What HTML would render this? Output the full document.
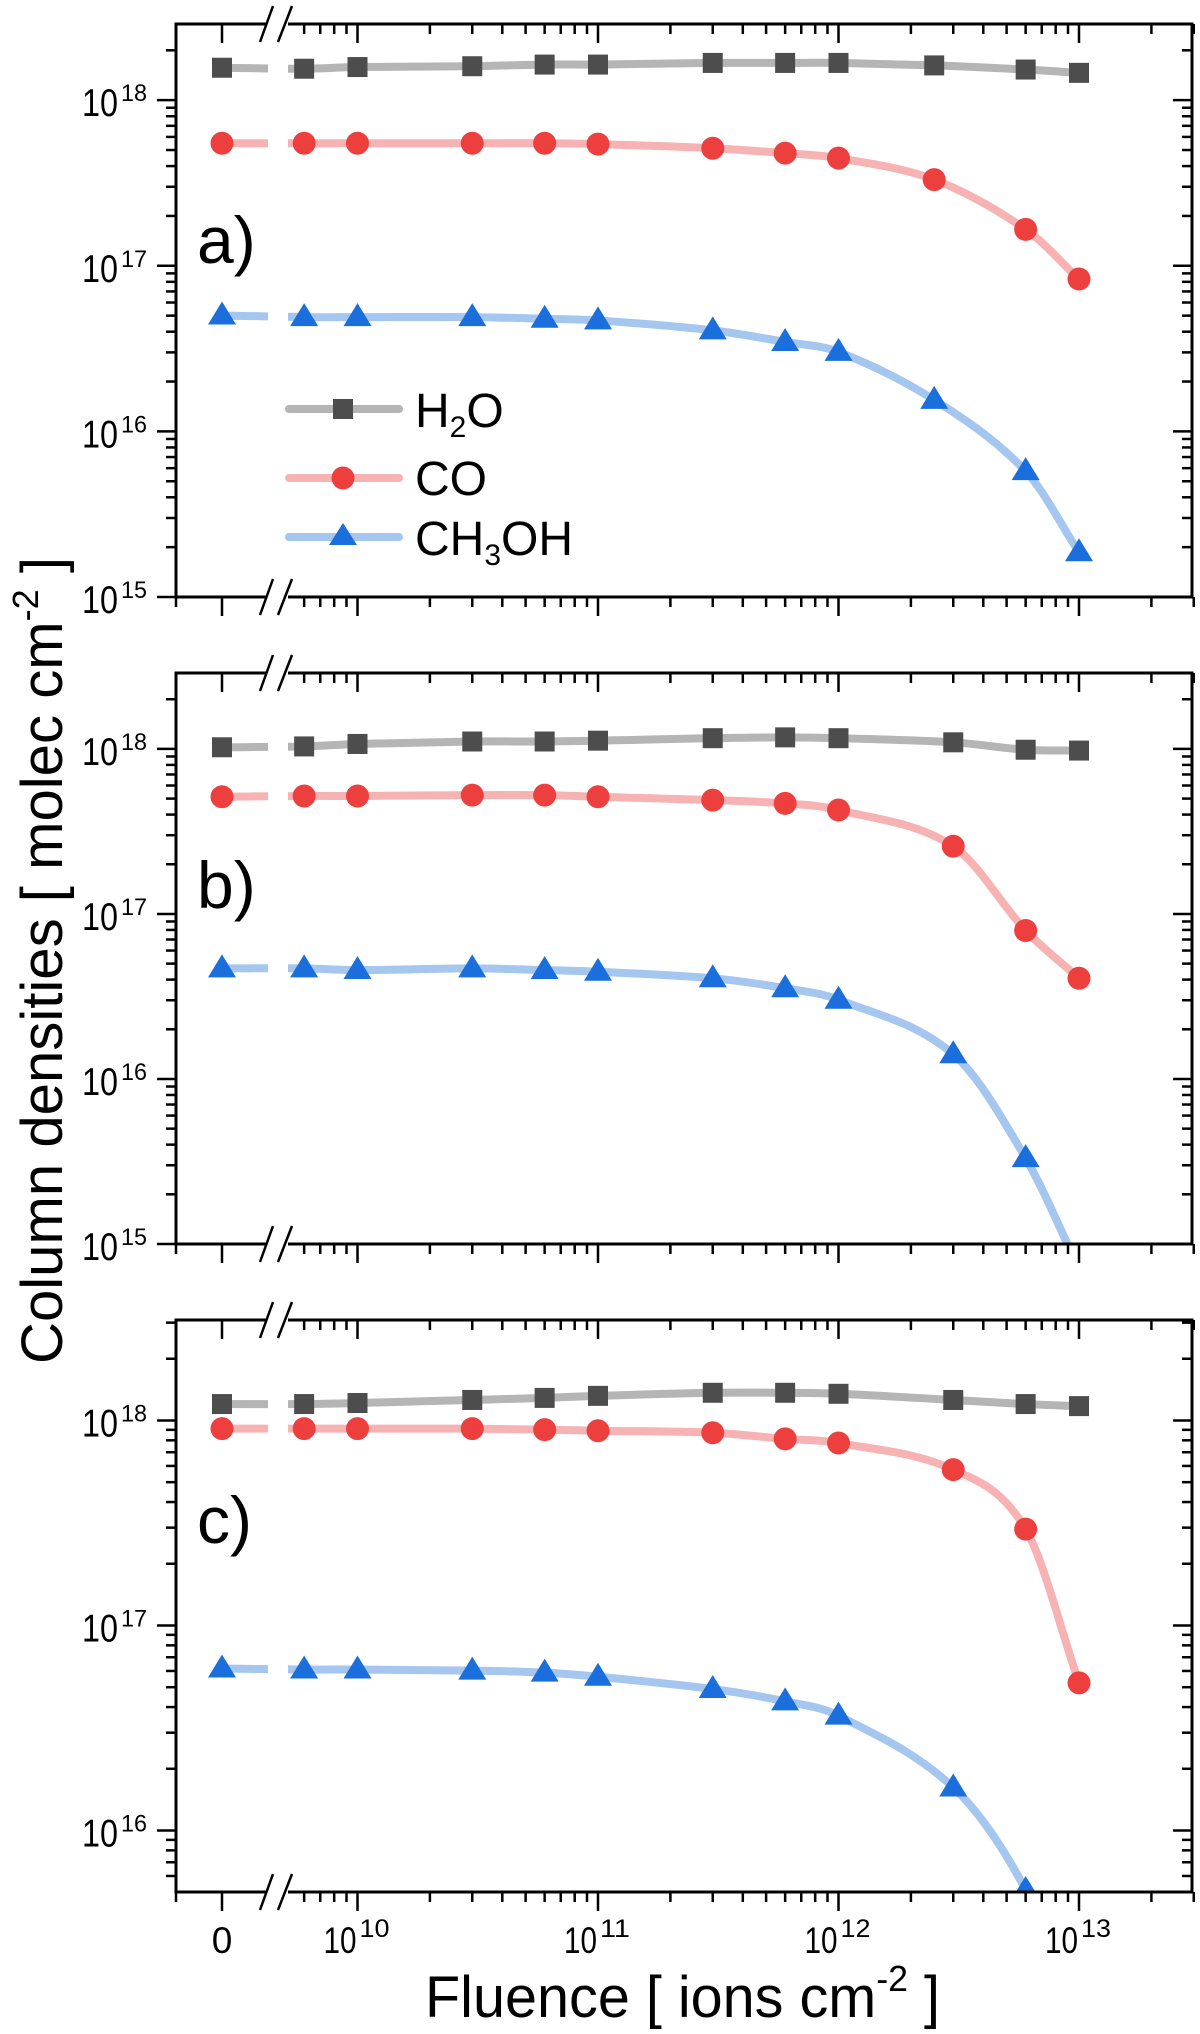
<!DOCTYPE html>
<html><head><meta charset="utf-8"><style>
html,body{margin:0;padding:0;background:#fff;}
svg{display:block;font-family:"Liberation Sans",Arial,sans-serif;}
</style></head><body>
<svg id="chart" width="1200" height="2034" viewBox="0 0 1200 2034" xmlns="http://www.w3.org/2000/svg">
<defs></defs>
<g id="root"></g>
<text transform="translate(62,1364) rotate(-90)" font-size="58" textLength="807" lengthAdjust="spacingAndGlyphs">Column densities [ molec cm<tspan dy="-24" font-size="36">-2</tspan><tspan dy="24"> ]</tspan></text>
<text x="425" y="2017" font-size="58" textLength="515" lengthAdjust="spacingAndGlyphs">Fluence [ ions cm<tspan dy="-26" font-size="36">-2</tspan><tspan dy="26"> ]</tspan></text>
<g>
  <line x1="289" y1="409" x2="399" y2="409" stroke="#b5b5b5" stroke-width="8" stroke-linecap="round"/>
  <rect x="333" y="399" width="20" height="20" fill="#4d4d4d"/>
  <text x="415" y="427" font-size="48">H<tspan dy="10" font-size="30">2</tspan><tspan dy="-10">O</tspan></text>
  <line x1="289" y1="478" x2="399" y2="478" stroke="#f7b3b3" stroke-width="8" stroke-linecap="round"/>
  <circle cx="343" cy="478" r="11.5" fill="#ee3f3f"/>
  <text x="415" y="495" font-size="48">CO</text>
  <line x1="289" y1="537" x2="399" y2="537" stroke="#a5c6ef" stroke-width="8" stroke-linecap="round"/>
  <polygon points="343,523 357,545 329,545" fill="#1a6fdc"/>
  <text x="415" y="555" font-size="48">CH<tspan dy="10" font-size="30">3</tspan><tspan dy="-10">OH</tspan></text>
</g>
</svg>
<script>
// Shared x data (fluence, ions cm^-2); 0 is plotted on the broken segment
const fluence = [0, 6e9, 1e10, 3e10, 6e10, 1e11, 3e11, 6e11, 1e12, 3e12, 6e12, 1e13];
const fluenceA = [0, 6e9, 1e10, 3e10, 6e10, 1e11, 3e11, 6e11, 1e12, 2.5e12, 6e12, 1e13];
const xTickLabels = ["0", "10", "10", "10", "10"];
const xTickExps = ["", "10", "11", "12", "13"];
// panel a (log10 of column density)
const h2oA = [18.196, 18.19, 18.20, 18.205, 18.215, 18.215, 18.225, 18.225, 18.225, 18.21, 18.185, 18.165];
const coA = [17.74, 17.74, 17.74, 17.74, 17.74, 17.735, 17.71, 17.68, 17.65, 17.52, 17.22, 16.92];
const ch3ohA = [16.70, 16.69, 16.69, 16.69, 16.68, 16.67, 16.61, 16.54, 16.48, 16.19, 15.76, 15.27];
// panel b
const h2oB = [18.01, 18.015, 18.03, 18.045, 18.045, 18.05, 18.065, 18.07, 18.065, 18.04, 17.995, 17.99];
const coB = [17.71, 17.715, 17.715, 17.72, 17.72, 17.71, 17.69, 17.67, 17.63, 17.41, 16.90, 16.61];
const ch3ohB = [16.67, 16.67, 16.66, 16.67, 16.66, 16.65, 16.61, 16.55, 16.48, 16.15, 15.52, 14.85];
// panel c
const h2oC = [18.08, 18.08, 18.085, 18.10, 18.11, 18.12, 18.135, 18.135, 18.13, 18.10, 18.08, 18.07];
const coC = [17.96, 17.96, 17.96, 17.96, 17.955, 17.95, 17.94, 17.91, 17.89, 17.76, 17.47, 16.72];
const ch3ohC = [16.79, 16.785, 16.785, 16.78, 16.77, 16.75, 16.69, 16.63, 16.56, 16.21, 15.71, 15.05];
const yDecadesAB = [15, 16, 17, 18];
const yDecadesC = [16, 17, 18];
const panelLabels = ["a)", "b)", "c)"];

const NS = "http://www.w3.org/2000/svg";
const root = document.getElementById('root');
const defs = document.querySelector('defs');
const L = 176, R = 1192;
function xScale(v){ return v <= 0 ? 222 : 598 + (Math.log10(v) - 11) * 240.5; }
function mk(tag, attrs, parent){
  const e = document.createElementNS(NS, tag);
  for (const k in attrs) e.setAttribute(k, attrs[k]);
  (parent || root).appendChild(e);
  return e;
}
function smoothPath(pts){
  let d = `M${pts[0][0]},${pts[0][1]}`;
  for (let i = 0; i < pts.length - 1; i++){
    const p0 = pts[i-1] || pts[i], p1 = pts[i], p2 = pts[i+1], p3 = pts[i+2] || p2;
    const h = p2[0] - p1[0];
    const s1 = (p2[1]-p0[1]) / Math.max(1, p2[0]-p0[0]);
    const s2 = (p3[1]-p1[1]) / Math.max(1, p3[0]-p1[0]);
    const c1x = p1[0] + h/3, c1y = p1[1] + s1*h/3;
    const c2x = p2[0] - h/3, c2y = p2[1] - s2*h/3;
    d += ` C${c1x},${c1y} ${c2x},${c2y} ${p2[0]},${p2[1]}`;
  }
  return d;
}
const panels = [
  {top:24, bot:597, lt:18.46, lb:15, dec:yDecadesAB, xs:fluenceA, series:[h2oA, coA, ch3ohA], lab:[197,263]},
  {top:673, bot:1244, lt:18.46, lb:15, dec:yDecadesAB, xs:fluence, series:[h2oB, coB, ch3ohB], lab:[197,908]},
  {top:1320, bot:1892, lt:18.49, lb:15.70, dec:yDecadesC, xs:fluence, series:[h2oC, coC, ch3ohC], lab:[197,1543]}
];
const lineCols = ["#b5b5b5", "#f7b3b3", "#a5c6ef"];
const markCols = ["#4d4d4d", "#ee3f3f", "#1a6fdc"];
const sNames = ["h2o", "co", "ch3oh"];

panels.forEach((p, pi) => {
  const id = "abc"[pi];
  const yS = lg => p.top + (p.lt - lg) / (p.lt - p.lb) * (p.bot - p.top);
  const g = mk('g', {});
  
  
  const cp = mk('clipPath', {id:'clip'+id}, defs);
  mk('rect', {x:L, y:p.top, width:R-L, height:p.bot-p.top}, cp);
  const cl = mk('clipPath', {id:'clipl'+id}, defs);
  mk('rect', {x:L, y:p.top, width:268-L, height:p.bot-p.top}, cl);
  mk('rect', {x:288, y:p.top, width:R-288, height:p.bot-p.top}, cl);
  p.series.forEach((s, si) => {
    const pts = s.map((v, i) => [xScale(p.xs[i]), yS(v)]);
    const path = mk('path', {d:smoothPath(pts), fill:'none', stroke:lineCols[si], 'stroke-width':8, 'clip-path':`url(#clipl${id})`}, g);
    
    
  });
  p.series.forEach((s, si) => {
    const mg = mk('g', {'clip-path':`url(#clip${id})`}, g);
    s.forEach((v, i) => {
      const x = xScale(p.xs[i]), y = yS(v);
      let m;
      if (si === 0) m = mk('rect', {x:x-10, y:y-10, width:20, height:20, fill:markCols[0]}, mg);
      else if (si === 1) m = mk('circle', {cx:x, cy:y, r:11.5, fill:markCols[1]}, mg);
      else m = mk('polygon', {points:`${x},${y-14} ${x+14},${y+9} ${x-14},${y+9}`, fill:markCols[2]}, mg);
      
      
    });
  });
  const fr = mk('rect', {x:L, y:p.top, width:R-L, height:p.bot-p.top, fill:'none', stroke:'#000', 'stroke-width':3}, g);
  
  
  for (let d = Math.floor(p.lb); d <= Math.ceil(p.lt); d++){
    for (let m = 1; m <= 9; m++){
      const lg = d + Math.log10(m);
      if (lg < p.lb - 1e-6 || lg > p.lt) continue;
      const y = yS(lg), len = m === 1 ? 19 : 10;
      mk('line', {x1:L-len, y1:y, x2:L, y2:y, stroke:'#000', 'stroke-width':2.5}, g);
      mk('line', {x1:R-len, y1:y, x2:R, y2:y, stroke:'#000', 'stroke-width':2.5}, g);
    }
  }
  p.dec.forEach(d => {
    const y = yS(d);
    const t = mk('text', {x:82, y:y+16, 'font-size':39, textLength:36, lengthAdjust:'spacingAndGlyphs'}, g);
    t.textContent = '10';
    
    
    const e = mk('text', {x:121, y:y+1, 'font-size':24, textLength:26, lengthAdjust:'spacingAndGlyphs'}, g);
    e.textContent = String(d);
  });
  const xt = [];
  xt.push([222, 19]);
  for (let d = 9; d <= 13; d++){
    for (let m = 1; m <= 9; m++){
      const v = m * Math.pow(10, d);
      if (v < 6e9 || v > 3e13) continue;
      xt.push([xScale(v), m === 1 ? 19 : 10]);
    }
  }
  xt.push([L, 10]);
  xt.forEach(([x, len]) => {
    mk('line', {x1:x, y1:p.bot, x2:x, y2:p.bot+len, stroke:'#000', 'stroke-width':2.5}, g);
    mk('line', {x1:x, y1:p.top, x2:x, y2:p.top+len, stroke:'#000', 'stroke-width':2.5}, g);
  });
  [p.top, p.bot].forEach(yy => {
    mk('rect', {x:266, y:yy-3, width:22, height:6, fill:'#fff'}, g);
    mk('line', {x1:260, y1:yy+18, x2:273, y2:yy-18, stroke:'#000', 'stroke-width':2.5}, g);
    mk('line', {x1:278, y1:yy+18, x2:292, y2:yy-18, stroke:'#000', 'stroke-width':2.5}, g);
  });
  const pl = mk('text', {x:p.lab[0], y:p.lab[1], 'font-size':66}, g);
  pl.textContent = panelLabels[pi];
  
  
});
const tickVals = [0, 1e10, 1e11, 1e12, 1e13];
tickVals.forEach((v, i) => {
  const x = xScale(v);
  if (i === 0){
    const t = mk('text', {x:x, y:1953, 'font-size':37, 'text-anchor':'middle'});
    t.textContent = xTickLabels[i];
    
    
  } else {
    const t = mk('text', {x:x-34, y:1953, 'font-size':37, textLength:33, lengthAdjust:'spacingAndGlyphs'});
    t.textContent = xTickLabels[i];
    
    
    const e = mk('text', {x:x+2, y:1937, 'font-size':25, textLength:30, lengthAdjust:'spacingAndGlyphs'});
    e.textContent = xTickExps[i];
  }
});
</script>
</body></html>
